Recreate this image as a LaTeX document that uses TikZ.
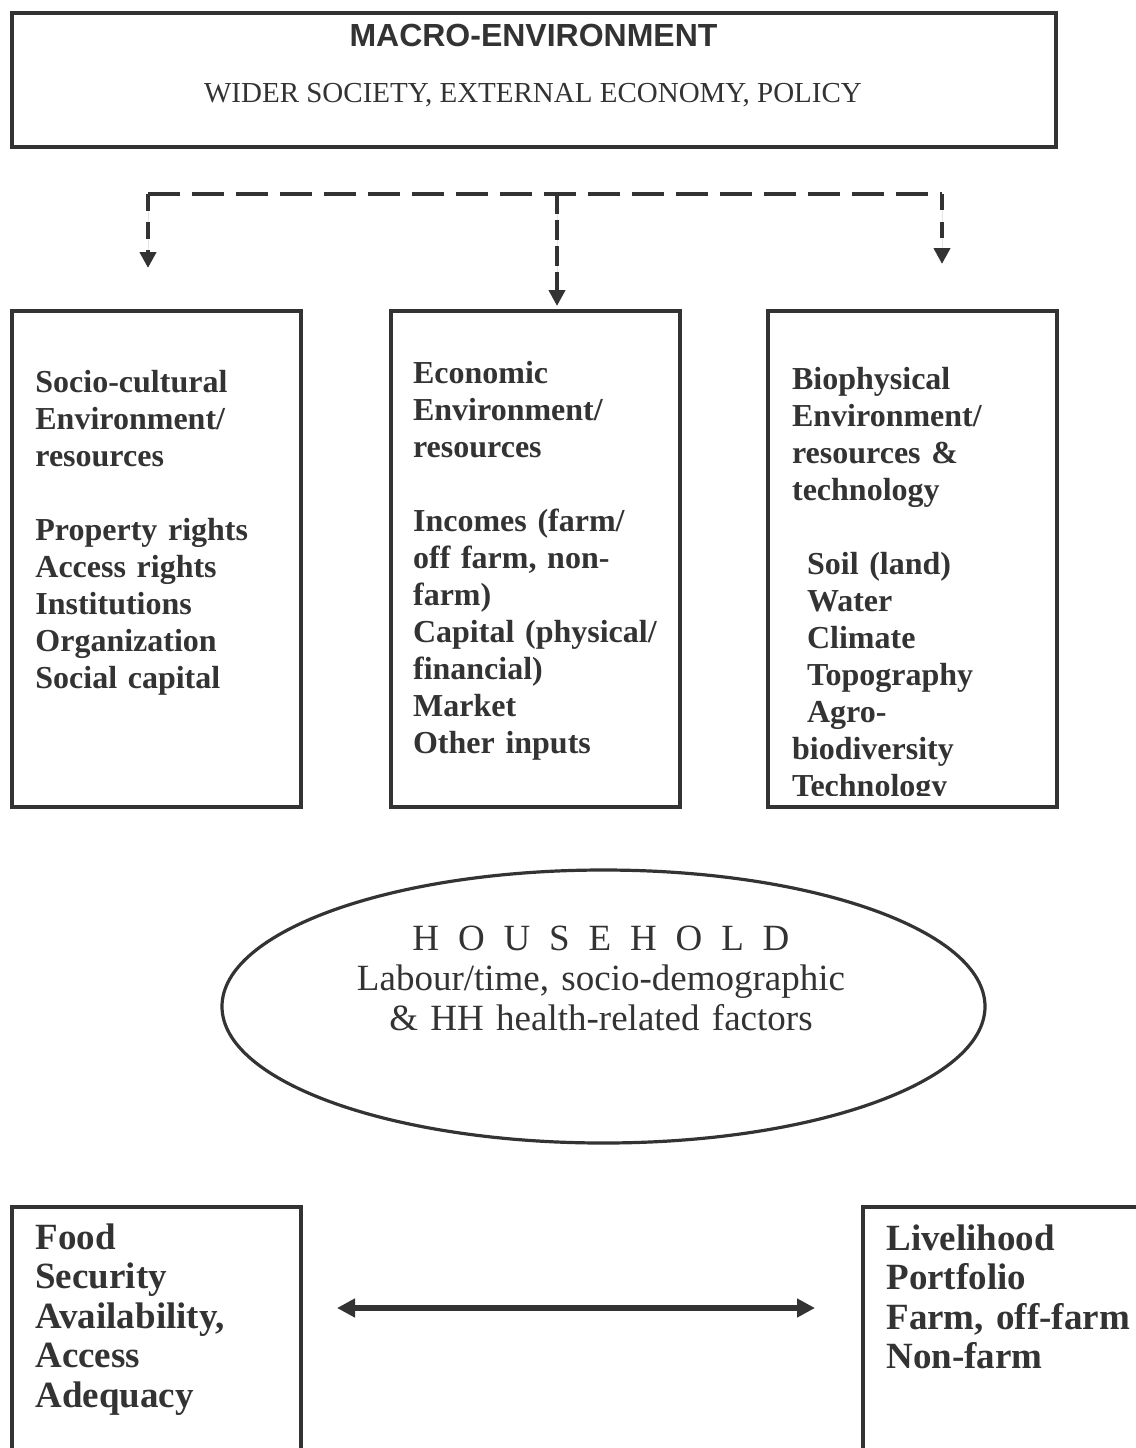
\documentclass[tikz,border=0pt]{standalone}
\usepackage{fontspec}
\setmainfont{Liberation Serif}
\newfontfamily\arialfont{Liberation Sans}
\usetikzlibrary{arrows.meta,shapes.geometric}
\definecolor{ink}{RGB}{51,51,51}
\begin{document}
\begin{tikzpicture}[x=0.5pt,y=-0.5pt,line join=miter,
  box/.style={draw=ink,line width=1.6pt,inner sep=0pt,minimum width=144.5pt,minimum height=248pt},
  txt/.style={anchor=base west,inner sep=0pt,align=left,text width=140pt,text=ink,
    font=\fontsize{16pt}{18.5pt}\selectfont\bfseries},
  bigtxt/.style={anchor=base west,inner sep=0pt,align=left,text width=150pt,text=ink,
    font=\fontsize{18.5pt}{19.75pt}\selectfont\bfseries},
  dashh/.style={draw=ink,line width=2pt,dash pattern=on 15.8pt off 6.2pt},
  tipped/.style={-{Triangle[width=8pt,length=8pt]}},
]
\useasboundingbox (0,0) rectangle (1136,1448);
\clip (0,0) rectangle (1136,1448);

% top box
\node[draw=ink,line width=1.6pt,inner sep=0pt,minimum width=522pt,minimum height=67pt] (macro) at (534,80) {};
\node[anchor=base,inner sep=0pt,text=ink,font=\arialfont\bfseries\fontsize{16pt}{18pt}\selectfont] (macrot) at (533.5,46.7) {MACRO-ENVIRONMENT};
\node[anchor=base,inner sep=0pt,text=ink,font=\fontsize{14.5pt}{17pt}\selectfont] (macros) at (533,102.7) {WIDER SOCIETY, EXTERNAL ECONOMY, POLICY};

% dashed distribution lines
\coordinate (jl) at (148,194);
\coordinate (jm) at (557,194);
\coordinate (jr) at (942,194);
\coordinate (tl) at (148,268);
\coordinate (tm) at (557,306);
\coordinate (tr) at (942,264);
\draw[dashh] (jl) -- (jr);
\draw[draw=ink,line width=2pt,dash pattern=on 8.5pt off 5.5pt,tipped,fill=ink] (jl) -- (tl);
\draw[draw=ink,line width=2pt,dash pattern=on 10pt off 3pt,tipped,fill=ink] (jm) -- (tm);
\draw[draw=ink,line width=2pt,dash pattern=on 8pt off 6pt,tipped,fill=ink] (jr) -- (tr);

% three environment boxes
\node[box] (soc) at (156.5,559) {};
\node[box] (eco) at (535.5,559) {};
\node[box] (bio) at (912.5,559) {};

\node[txt] (soct) at (35,392.7) {Socio-cultural\\Environment/\\resources\\[18.5pt]Property rights\\Access rights\\Institutions\\Organization\\Social capital};
\node[txt] (ecot) at (412.7,383) {Economic\\Environment/\\resources\\[18.5pt]Incomes (farm/\\off farm, non-\\farm)\\Capital (physical/\\financial)\\Market\\Other inputs};
\begin{scope}
\clip (768,311) rectangle (1057,795);
\node[txt] (biot) at (791.7,389) {Biophysical\\Environment/\\resources \&\\technology\\[18.5pt]\hspace*{7.5pt}Soil (land)\\\hspace*{7.5pt}Water\\\hspace*{7.5pt}Climate\\\hspace*{7.5pt}Topography\\\hspace*{7.5pt}Agro-\\biodiversity\\Technology};
\end{scope}

% household ellipse
\node[ellipse,draw=ink,line width=1.6pt,inner sep=0pt,minimum width=381.5pt,minimum height=136.5pt] (hh) at (603.5,1006.5) {};
\node[anchor=base,inner sep=0pt,align=center,text width=320pt,text=ink,
  font=\fontsize{18.5pt}{20pt}\selectfont] (hht) at (601,950.7)
  {{\spaceskip=0.51em H O U S E H O L D}\\Labour/time, socio-demographic\\\& HH health-related factors};

% bottom boxes
\node[draw=ink,line width=1.6pt,inner sep=0pt,minimum width=144.5pt,minimum height=131.5pt] (fs) at (156.5,1338.5) {};
\node[draw=ink,line width=1.6pt,inner sep=0pt,minimum width=143.5pt,minimum height=131.5pt] (lp) at (1006.5,1338.5) {};
\node[bigtxt] (fst) at (35,1249) {Food\\Security\\Availability,\\Access\\Adequacy};
\node[bigtxt] (lpt) at (886,1250) {Livelihood\\Portfolio\\Farm, off-farm\\Non-farm};

\coordinate (al) at (337,1308);
\coordinate (ar) at (815,1308);
\draw[draw=ink,line width=2.6pt,{Triangle[width=9pt,length=9pt]}-{Triangle[width=9pt,length=9pt]}] (al) -- (ar);
\end{tikzpicture}
\end{document}
